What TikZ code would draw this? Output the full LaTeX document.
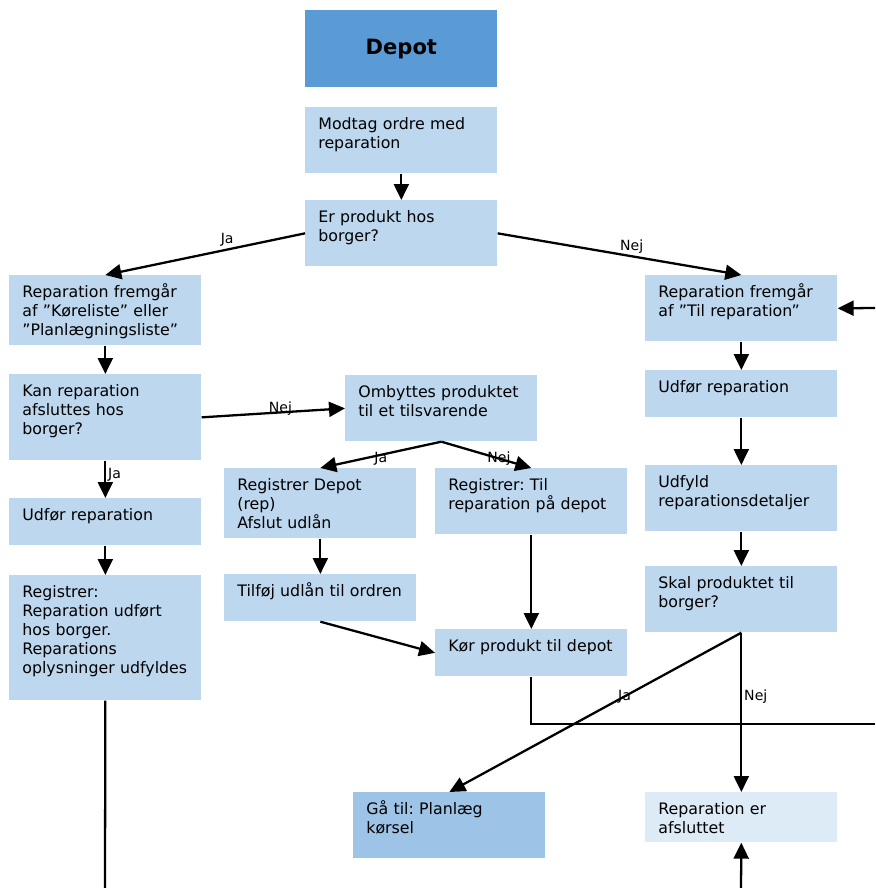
\documentclass[tikz,border=0pt]{standalone}
\usepackage{fontspec}
\setmainfont{DejaVu Sans}
\usetikzlibrary{arrows.meta}

\definecolor{hovedblaa}{HTML}{5B9BD5}
\definecolor{lysblaa}{HTML}{BDD7EE}
\definecolor{mellemblaa}{HTML}{9DC3E6}
\definecolor{blegblaa}{HTML}{DDEBF7}

\frenchspacing
\begin{document}
\begin{tikzpicture}[x=0.02cm,y=-0.02cm,
    hoved/.style={fill=hovedblaa,anchor=north west,minimum width=3.84cm,minimum height=1.54cm,
      font=\bfseries\fontsize{12}{14}\selectfont},
    proc/.style={fill=lysblaa,anchor=north west,inner xsep=0.26cm,inner ysep=0pt,
      text width=3.32cm,align=left,font=\fontsize{9}{10.8}\selectfont,
      text height=0.44cm,text depth=#1},
    proc/.default=0.88cm,
    pil/.style={line width=1.3pt,-{Triangle[length=0.32cm,width=0.3cm]}},
    linje/.style={line width=1.3pt},
    lbl/.style={font=\fontsize{8}{9.6}\selectfont,inner sep=1pt}]
  \useasboundingbox (0,0) rectangle (875,888);

  \node[hoved] (depot) at (305,10) {Depot};
  \node[proc] (modtag) at (305,107) {Modtag ordre med\\reparation};
  \node[proc] (erprod) at (305,200) {Er produkt hos\\borger?};

  \node[proc=0.96cm] (repKor) at (9,275) {Reparation fremgår\\af ”Køreliste” eller\\”Planlægningsliste”};
  \node[proc=1.28cm] (kan) at (9,374) {Kan reparation\\afsluttes hos\\borger?};
  \node[proc=0.50cm] (udforL) at (9,498) {Udfør reparation};
  \node[proc=2.06cm] (regL) at (9,575) {Registrer:\\Reparation udført\\hos borger.\\Reparations\\oplysninger udfyldes};

  \node[proc] (omb) at (345,375) {Ombyttes produktet\\til et tilsvarende};
  \node[proc=0.96cm] (regDepot) at (224,468) {Registrer Depot\\(rep)\\Afslut udlån};
  \node[proc] (regTil) at (435,468) {Registrer: Til\\reparation på depot};
  \node[proc=0.50cm] (tilfoj) at (224,574) {Tilføj udlån til ordren};
  \node[proc=0.50cm] (kor) at (435,629) {Kør produkt til depot};

  \node[proc] (repTil) at (645,275) {Reparation fremgår\\af ”Til reparation”};
  \node[proc=0.50cm] (udforR) at (645,370) {Udfør reparation};
  \node[proc] (udfyld) at (645,465) {Udfyld\\reparationsdetaljer};
  \node[proc] (skal) at (645,566) {Skal produktet til\\borger?};

  \node[proc,fill=mellemblaa] (gaa) at (353,792) {Gå til: Planlæg\\kørsel};
  \node[proc=0.56cm,fill=blegblaa] (afsl) at (645,792) {Reparation er\\afsluttet};

  \coordinate (udL) at (105,888);
  \coordinate (udK) at (875,724);
  \coordinate (indR) at (875,308);
  \coordinate (indB) at (741,888);

  \path[pil] (modtag.south) edge (erprod.north);
  \path[pil] (erprod.west) edge node[lbl,pos=.39,above]{Ja} (repKor.north);
  \path[pil] (erprod.east) edge node[lbl,pos=.55,above]{Nej} (repTil.north);

  \path[pil] (repKor.south) edge (kan.north);
  \path[pil] (kan.east) edge node[lbl,pos=.55,yshift=2pt]{Nej} (omb.west);
  \path[pil] (kan.south) edge node[lbl,pos=.37,right]{Ja} (udforL.north);
  \path[pil] (udforL.south) edge (regL.north);
  \draw[linje] (regL.south) -- (udL);

  \path[pil] (omb.south) edge node[lbl,pos=.5,yshift=-2pt]{Ja} (regDepot.north);
  \path[pil] (omb.south) edge node[lbl,pos=.64]{Nej} (regTil.north);
  \path[pil] (regDepot.south) edge (tilfoj.north);
  \path[pil] (tilfoj.south) edge (kor.west);
  \path[pil] (regTil.south) edge (kor.north);
  \draw[linje] (kor.south) |- (udK);

  \path[pil] (indR) edge (repTil.east);
  \path[pil] (repTil.south) edge (udforR.north);
  \path[pil] (udforR.south) edge (udfyld.north);
  \path[pil] (udfyld.south) edge (skal.north);
  \path[pil] (skal.south) edge node[lbl,pos=.4]{Ja} (gaa.north);
  \path[pil] (skal.south) edge node[lbl,pos=.4,right]{Nej} (afsl.north);
  \path[pil] (indB) edge (afsl.south);
\end{tikzpicture}
\end{document}
